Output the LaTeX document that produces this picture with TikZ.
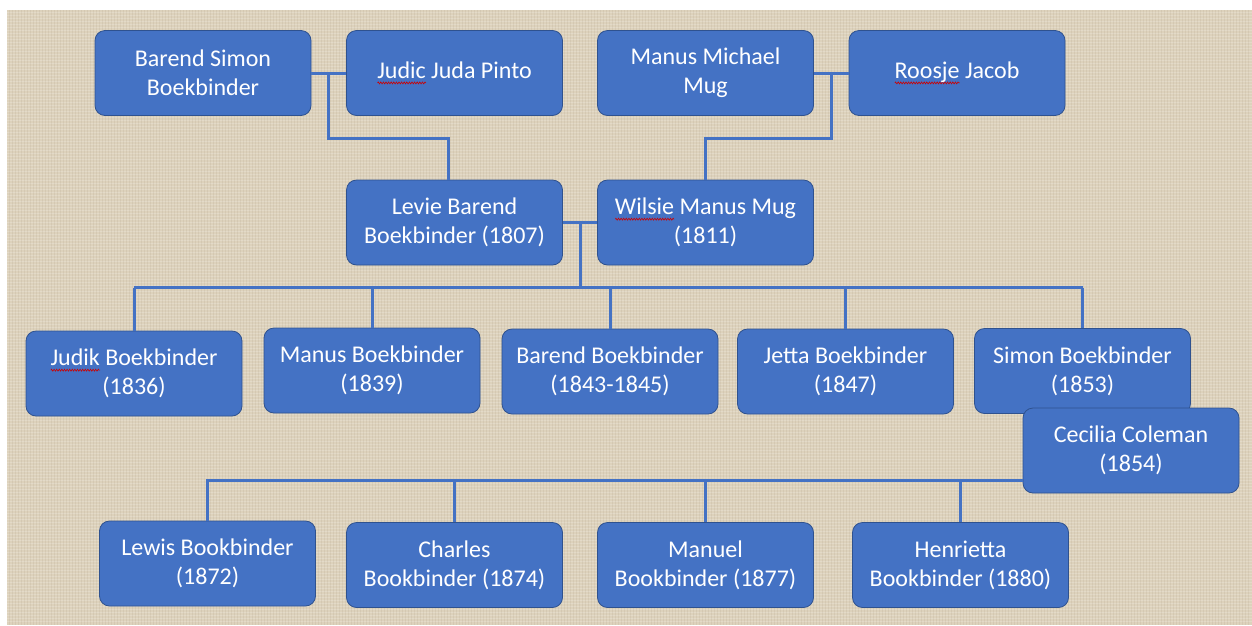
\documentclass[tikz,border=0pt]{standalone}
\usepackage{fontspec}
\setmainfont{Carlito}
\usepackage{tikz}
\usetikzlibrary{positioning, calc, decorations.pathmorphing}
\definecolor{boxblue}{RGB}{68, 114, 196}
\definecolor{boxedge}{RGB}{47, 82, 143}
\definecolor{burlap}{RGB}{221, 210, 188}
\newsavebox\markbox
\newcommand\spellmark[1]{\sbox\markbox{#1}\rlap{\tikz[baseline=0pt, x=1pt, y=1pt]
  \draw[red!80!black, line width=0.6pt, sharp corners, decorate,
    decoration={zigzag, amplitude=1pt, segment length=2.6pt}] (0,-4.5) -- (\wd\markbox,-4.5);}\usebox\markbox}

\begin{document}
\begin{tikzpicture}[x=1pt, y=-1pt,
    person/.style={draw=boxedge, line width=0.8pt, fill=boxblue, rounded corners=10pt,
      minimum width=216pt, minimum height=85pt, inner sep=2pt, align=center, text=white,
      font=\fontsize{24}{29}\selectfont},
    link/.style={draw=boxblue, line width=3pt}]
  \useasboundingbox (0,0) rectangle (1252,625);
  % burlap background
  \fill[burlap] (7,10) rectangle (1252,625);
  \foreach \y in {12,15,...,623}
    \draw[white, opacity=0.18, line width=0.8pt] (7,\y) -- (1252,\y);
  \foreach \x in {9,12,...,1250}
    \draw[black!60!brown, opacity=0.06, line width=0.8pt] (\x,10) -- (\x,625);

  % grandparents
  \node[person] (bsb) at (203,73) {Barend Simon\\Boekbinder};
  \node[person] (jjp) at (454.5,73) {\spellmark{Judic} Juda Pinto};
  \node[person] (mmm) at (705.5,73) {Manus Michael\\Mug};
  \node[person] (rj) at (957,73) {\spellmark{Roosje} Jacob};

  % parents
  \node[person] (lbb) at (454.5,222.5) {Levie Barend\\Boekbinder (1807)};
  \node[person] (wmm) at (705.5,222.5) {\spellmark{Wilsie} Manus Mug\\(1811)};

  % children
  \node[person] (judik) at (134,373.5) {\spellmark{Judik} Boekbinder\\(1836)};
  \node[person] (manus) at (372,370.5) {Manus Boekbinder\\(1839)};
  \node[person] (barend) at (610,371.5) {Barend Boekbinder\\(1843-1845)};
  \node[person] (jetta) at (845.5,371.5) {Jetta Boekbinder\\(1847)};
  \node[person] (simon) at (1082.5,371) {Simon Boekbinder\\(1853)};
  \node[person] (cecilia) at (1131,450.5) {Cecilia Coleman\\(1854)};

  % grandchildren
  \node[person] (lewis) at (207.5,563.5) {Lewis Bookbinder\\(1872)};
  \node[person] (charles) at (454.5,565) {Charles\\Bookbinder (1874)};
  \node[person] (manuel) at (705.5,565) {Manuel\\Bookbinder (1877)};
  \node[person] (henrietta) at (960.5,565) {Henrietta\\Bookbinder (1880)};

  % couples
  \draw[link] (bsb.east) -- (jjp.west);
  \draw[link] (mmm.east) -- (rj.west);
  \draw[link] (lbb.east) -- (wmm.west);
  \coordinate (pair1) at ($(bsb.east)!0.5!(jjp.west)$);
  \coordinate (pair2) at ($(mmm.east)!0.5!(rj.west)$);
  \coordinate (pair3) at ($(lbb.east)!0.5!(wmm.west)$);

  % descent
  \draw[link] (pair1) -- ++(0,65) -| ([xshift=-6pt]lbb.north);
  \draw[link] (pair2) -- ++(0,65) -| (wmm.north);
  \coordinate (kids1) at ($(pair3)+(0,65)$);
  \draw[link] (pair3) -- (kids1);
  \draw[link] (judik.north |- kids1) -- (simon.north |- kids1);
  \foreach \kid in {judik, manus, barend, jetta, simon}
    \draw[link] (\kid.north) -- (\kid.north |- kids1);
  \coordinate (kids2) at ($(cecilia.west)+(0,29.5)$);
  \draw[link] (kids2) -| (lewis.north);
  \foreach \kid in {charles, manuel, henrietta}
    \draw[link] (\kid.north) -- (\kid.north |- kids2);
\end{tikzpicture}
\end{document}
